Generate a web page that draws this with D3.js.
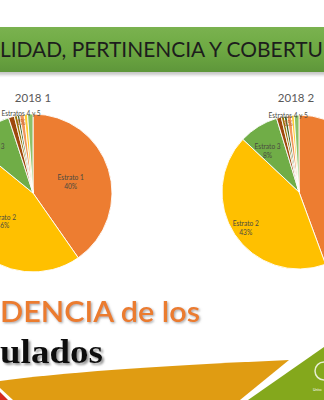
<!DOCTYPE html>
<html><head><meta charset="utf-8">
<script src="https://cdn.jsdelivr.net/npm/d3@7"></script>
<style>html,body{margin:0;padding:0;background:#fff;overflow:hidden}</style>
</head><body>
<script>
// ---- data ----
const categories = ["Estrato 1","Estrato 2","Estrato 3","Estratos 4 y 5","Estrato 6","Rural","Sin información","Otros","No reporta"];
const values2018_1 = [40.3, 45.6, 9.1, 1.2, 0.6, 0.5, 0.9, 0.7, 1.1];
const values2018_2 = [44.4, 42.6, 8.3, 1.0, 0.6, 0.6, 0.9, 0.6, 1.0];
const periods = ["2018 1", "2018 2"];
const labeledCategories = ["Estrato 1","Estrato 2","Estrato 3","Estratos 4 y 5"];
const bannerText = "LIDAD, PERTINENCIA Y COBERTU";
const headline1 = "DENCIA de los";
const headline2 = "ulados";

// ---- styles ----
const colors = ["#ED7D31","#FFC000","#70AD47","#9E480E","#997300","#43682B","#F1975A","#FFCD33","#8CC168"];
const W = 324, H = 400;
const svg = d3.select("body").append("svg").attr("width", W).attr("height", H);
const defs = svg.append("defs");

const g1 = defs.append("linearGradient").attr("id","bannerGrad").attr("x1",0).attr("y1",0).attr("x2",0).attr("y2",1);
g1.append("stop").attr("offset","0").attr("stop-color","#7AB24F");
g1.append("stop").attr("offset","0.5").attr("stop-color","#6EA943");
g1.append("stop").attr("offset","1").attr("stop-color","#5E963A");
const f = defs.append("filter").attr("id","blur").attr("x","-10%").attr("y","-50%").attr("width","120%").attr("height","200%");
f.append("feGaussianBlur").attr("stdDeviation",1.6);
const sh1 = defs.append("filter").attr("id","shadowOrange").attr("x","-5%").attr("y","-20%").attr("width","115%").attr("height","150%");
sh1.append("feDropShadow").attr("dx",1.2).attr("dy",1.2).attr("stdDeviation",0.8).attr("flood-color","#808080").attr("flood-opacity",0.7);
const sh2 = defs.append("filter").attr("id","shadowBlack").attr("x","-5%").attr("y","-20%").attr("width","115%").attr("height","150%");
sh2.append("feDropShadow").attr("dx",2).attr("dy",2).attr("stdDeviation",0.9).attr("flood-color","#7a7a7a").attr("flood-opacity",0.8);

// banner
svg.append("rect").attr("x",-5).attr("y",29).attr("width",W+10).attr("height",46).attr("fill","#9a9a9a").attr("opacity",0.55).attr("filter","url(#blur)");
svg.append("rect").attr("x",-5).attr("y",27).attr("width",W+10).attr("height",45).attr("fill","url(#bannerGrad)");
svg.append("text").attr("x",0).attr("y",57).attr("font-family","Lato, 'Open Sans', sans-serif")
  .attr("font-size",20.5).attr("fill","#1d1d1d").attr("textLength",323).attr("lengthAdjust","spacingAndGlyphs")
  .text(bannerText);

// pies (label placement: radius factor and angular shift in degrees, relative to each slice)
const pies = [
  {values: values2018_1, cx: 33, cy: 193, r: 79, title: periods[0], tx: 33,
   lr: [0.5, 0.52, 0.76, 0.97], ls: [0, 0, -9.5, 0]},
  {values: values2018_2, cx: 299, cy: 192, r: 77, title: periods[1], tx: 296,
   lr: [0.5, 0.83, 0.68, 0.96], ls: [0, 0, -5, 0]}
];
const pieGen = d3.pie().sort(null).value(d => d);
const color = d3.scaleOrdinal().domain(categories).range(colors);

pies.forEach(p => {
  const g = svg.append("g").attr("transform", `translate(${p.cx},${p.cy})`);
  const arcs = pieGen(p.values);
  const arc = d3.arc().innerRadius(0).outerRadius(p.r);
  g.selectAll("path").data(arcs).join("path")
    .attr("d", arc).attr("fill", (d,i) => color(categories[i]))
    .attr("stroke","#fff").attr("stroke-width",0.9).attr("stroke-linejoin","round");
  svg.append("text").attr("x", p.tx).attr("y", 102).attr("text-anchor","middle")
    .attr("font-family","Lato, 'Open Sans', sans-serif").attr("font-size",11.5).attr("fill","#595959").text(p.title);
  labeledCategories.forEach((name, k) => {
    const i = categories.indexOf(name);
    const a = arcs[i];
    let ang = (a.startAngle + a.endAngle) / 2;
    if (k === 3) ang = (a.startAngle + 2 * Math.PI) / 2;
    ang += p.ls[k] * Math.PI / 180;
    const rr = p.r * p.lr[k];
    const x = Math.sin(ang) * rr, y = -Math.cos(ang) * rr;
    const t = g.append("text").attr("text-anchor","middle")
      .attr("font-family","Lato, 'Open Sans', sans-serif").attr("font-size",6.6).attr("fill","#4a4a40");
    t.append("tspan").attr("x", x).attr("y", y - 1).text(name);
    t.append("tspan").attr("x", x).attr("y", y + 7.5).attr("fill", k === 3 ? "#C0602A" : "#4a4a40")
      .text(Math.round(p.values[i]) + "%");
  });
});

// bottom decorations
svg.append("path").attr("d","M0,381 C60,373 150,366 289,360 L240,400 L0,400 Z").attr("fill","#E09C12");
svg.append("path").attr("d","M0,388 L13,400 L0,400 Z").attr("fill","#fff");
svg.append("path").attr("d","M0,392 L8,400 L0,400 Z").attr("fill","#D42A20");
svg.append("path").attr("d","M248,400 L324,347 L324,400 Z").attr("fill","#84A81C");
svg.append("path").attr("d","M324,362 A9,9 0 0 0 324,380").attr("fill","none").attr("stroke","#fff").attr("stroke-width",1.5).attr("opacity",0.8);
svg.append("text").attr("x",313).attr("y",391).attr("font-family","Lato, sans-serif").attr("font-size",3.5).attr("fill","#fff").text("Unive");

// headline text
svg.append("text").attr("x",0).attr("y",322).attr("font-family","Lato, 'Open Sans', sans-serif").attr("font-size",28.5).attr("font-weight",600)
  .attr("fill","#EB7B2F").attr("textLength",200).attr("lengthAdjust","spacingAndGlyphs")
  .attr("filter","url(#shadowOrange)").text(headline1);

svg.append("text").attr("x",0).attr("y",363).attr("font-family","'Liberation Serif', 'DejaVu Serif', serif").attr("font-size",34).attr("font-weight","bold")
  .attr("fill","#111").attr("textLength",103).attr("lengthAdjust","spacingAndGlyphs")
  .attr("filter","url(#shadowBlack)").text(headline2);
</script>
</body></html>
